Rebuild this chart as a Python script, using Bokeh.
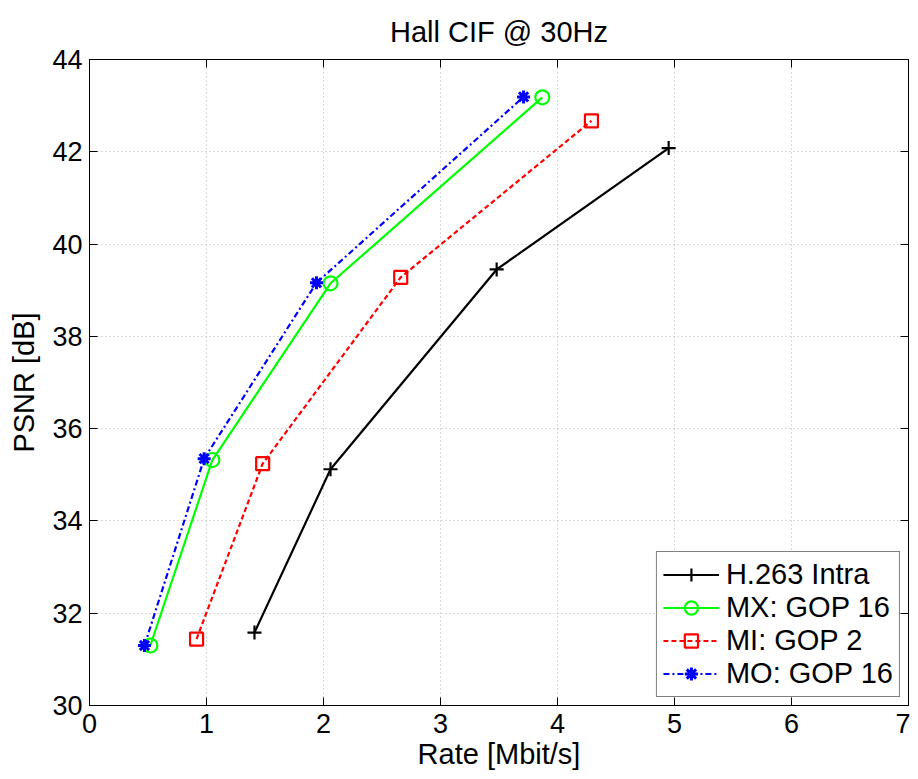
from bokeh.plotting import figure
from bokeh.models import LinearAxis, Legend, LegendItem, Range1d, FixedTicker, CustomJSTickFormatter
from bokeh.embed import file_html
from bokeh.resources import INLINE

# Data (Rate in Mbit/s, PSNR in dB)
h263_rate = [1.41, 2.06, 3.48, 4.95]
h263_psnr = [31.58, 35.12, 39.45, 42.08]

mx_rate = [0.52, 1.05, 2.06, 3.87]
mx_psnr = [31.30, 35.32, 39.15, 43.18]

mi_rate = [0.915, 1.48, 2.66, 4.29]
mi_psnr = [31.44, 35.24, 39.28, 42.67]

mo_rate = [0.47, 0.98, 1.94, 3.71]
mo_psnr = [31.30, 35.35, 39.16, 43.19]

x_ticks = [0, 1, 2, 3, 4, 5, 6, 7]
y_ticks = [30, 32, 34, 36, 38, 40, 42, 44]

FONT = "Liberation Sans"

p = figure(width=910, height=778, output_backend="svg", toolbar_location=None,
           x_range=Range1d(0, 7), y_range=Range1d(30, 44),
           min_border_left=89, min_border_right=2, min_border_top=59, min_border_bottom=73,
           title="Hall CIF @ 30Hz")

p.title.text_font = FONT
p.title.text_font_size = "29px"
p.title.text_font_style = "normal"
p.title.align = "center"
p.title.text_color = "black"
p.title.standoff = 24

p.outline_line_color = "black"
p.outline_line_width = 1

for ax in (p.xaxis[0], p.yaxis[0]):
    ax.major_label_text_font = FONT
    ax.major_label_text_font_size = "27px"
    ax.major_label_text_color = "black"
    ax.axis_label_text_font = FONT
    ax.axis_label_text_font_size = "29px"
    ax.axis_label_text_font_style = "normal"
    ax.axis_label_text_color = "black"
    ax.major_tick_in = 8
    ax.major_tick_out = 0
    ax.minor_tick_line_color = None
    ax.axis_line_color = "black"
    ax.major_tick_line_color = "black"

p.xaxis[0].ticker = FixedTicker(ticks=x_ticks)
p.yaxis[0].ticker = FixedTicker(ticks=y_ticks)
p.xaxis[0].axis_label = "Rate [Mbit/s]"
p.yaxis[0].axis_label = "PSNR [dB]"
p.xaxis[0].major_label_standoff = 8
p.yaxis[0].major_label_standoff = 7
p.xaxis[0].axis_label_standoff = 2
p.yaxis[0].axis_label_standoff = 9

blank = CustomJSTickFormatter(code="return ''")
top = LinearAxis(ticker=FixedTicker(ticks=x_ticks), formatter=blank,
                 major_label_text_font_size="10px", major_label_standoff=0,
                 major_tick_in=8, major_tick_out=0, minor_tick_line_color=None,
                 axis_line_color="black", major_tick_line_color="black")
right = LinearAxis(ticker=FixedTicker(ticks=y_ticks), formatter=blank,
                   major_label_text_font_size="10px", major_label_standoff=0,
                   major_tick_in=8, major_tick_out=0, minor_tick_line_color=None,
                   axis_line_color="black", major_tick_line_color="black")
p.add_layout(top, "above")
p.add_layout(right, "right")

p.xgrid[0].ticker = FixedTicker(ticks=x_ticks)
p.ygrid[0].ticker = FixedTicker(ticks=y_ticks)
for g in (p.xgrid[0], p.ygrid[0]):
    g.grid_line_color = "#b5b5b5"
    g.grid_line_dash = "1 3"
    g.grid_line_width = 1

LW = 2.2
r1 = p.line(h263_rate, h263_psnr, line_color="black", line_width=LW)
m1 = p.scatter(h263_rate, h263_psnr, marker="cross", size=14, line_color="black",
               line_width=2.2, fill_color=None)

r2 = p.line(mx_rate, mx_psnr, line_color="#00ff00", line_width=LW)
m2 = p.scatter(mx_rate, mx_psnr, marker="circle", size=14, line_color="#00ff00",
               line_width=2.2, fill_color=None)

r3 = p.line(mi_rate, mi_psnr, line_color="red", line_width=LW, line_dash="5 3")
m3 = p.scatter(mi_rate, mi_psnr, marker="square", size=13, line_color="red",
               line_width=2.2, fill_color=None)

r4 = p.line(mo_rate, mo_psnr, line_color="blue", line_width=LW, line_dash="6 3 2 3")
m4 = p.scatter(mo_rate, mo_psnr, marker="asterisk", size=13, line_color="blue",
               line_width=3, fill_color=None)

legend = Legend(items=[
    LegendItem(label="H.263 Intra", renderers=[r1, m1]),
    LegendItem(label="MX: GOP 16", renderers=[r2, m2]),
    LegendItem(label="MI: GOP 2", renderers=[r3, m3]),
    LegendItem(label="MO: GOP 16", renderers=[r4, m4]),
], location="bottom_right")
legend.label_text_font = FONT
legend.label_text_font_size = "29px"
legend.label_text_color = "black"
legend.border_line_color = "black"
legend.border_line_width = 1
legend.background_fill_color = "white"
legend.background_fill_alpha = 1
legend.margin = 8
legend.padding = 6
legend.spacing = 0
legend.label_height = 33
legend.glyph_height = 33
legend.glyph_width = 56
legend.label_standoff = 7
p.add_layout(legend, "center")

open("out.html", "w").write(file_html(p, INLINE))
